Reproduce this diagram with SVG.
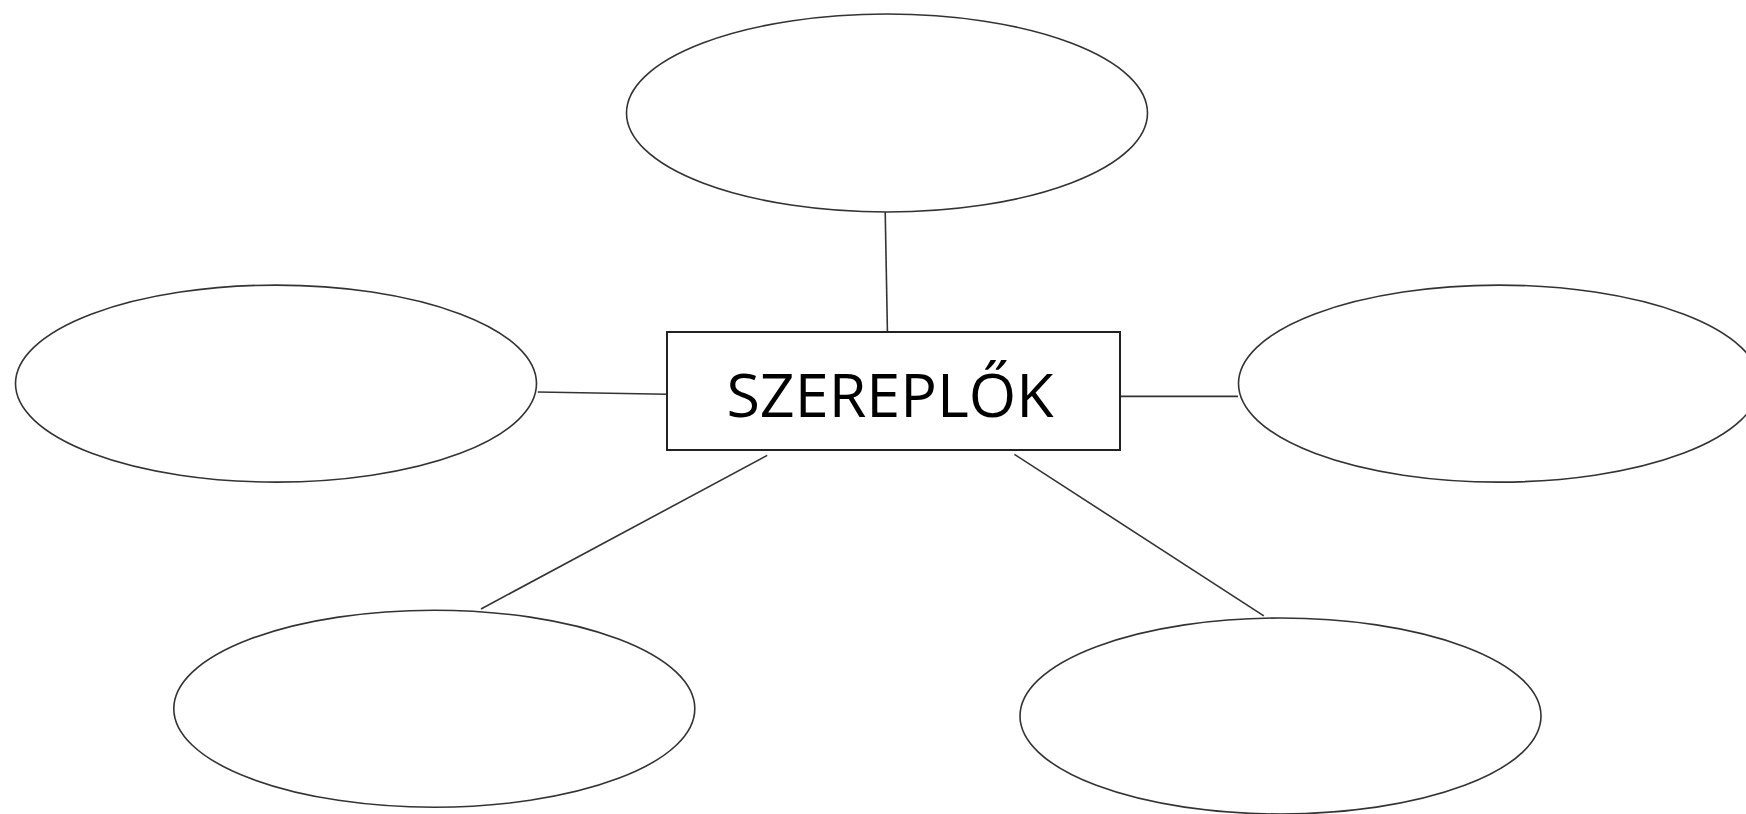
<svg xmlns="http://www.w3.org/2000/svg" width="1746" height="814" viewBox="0 0 1746 814">
<style>
.oval{fill:#fff;stroke:#333;stroke-width:1.6}
.box{fill:#fff;stroke:#222;stroke-width:2}
.conn line{stroke:#333;stroke-width:1.6}
.lbl{font-family:"Open Sans","Liberation Sans",sans-serif;font-size:61px;fill:#000;text-anchor:middle}
</style>
<rect width="1746" height="814" fill="#fff"/>
<g id="connectors" class="conn">
<line x1="885.2" y1="211.6" x2="887.5" y2="336"/>
<line x1="537.8" y1="392" x2="667" y2="394.2"/>
<line x1="1120" y1="396.4" x2="1238" y2="396.4"/>
<line x1="767.2" y1="455.4" x2="481" y2="609"/>
<line x1="1014.4" y1="454.3" x2="1263.8" y2="615.8"/>
</g>
<g id="top"><ellipse class="oval" cx="887" cy="113" rx="260.5" ry="99"/></g>
<g id="left"><ellipse class="oval" cx="276" cy="383.6" rx="260.5" ry="98.5"/></g>
<g id="right"><ellipse class="oval" cx="1499" cy="383.6" rx="260.5" ry="98.5"/></g>
<g id="bottom-left"><ellipse class="oval" cx="434.3" cy="708.7" rx="260.5" ry="98.5"/></g>
<g id="bottom-right"><ellipse class="oval" cx="1280.5" cy="716" rx="260.5" ry="98"/></g>
<g id="center">
<rect class="box" x="667" y="332" width="453" height="118"/>
<text class="lbl" x="890" y="416.5">SZEREPLŐK</text>
</g>
</svg>
